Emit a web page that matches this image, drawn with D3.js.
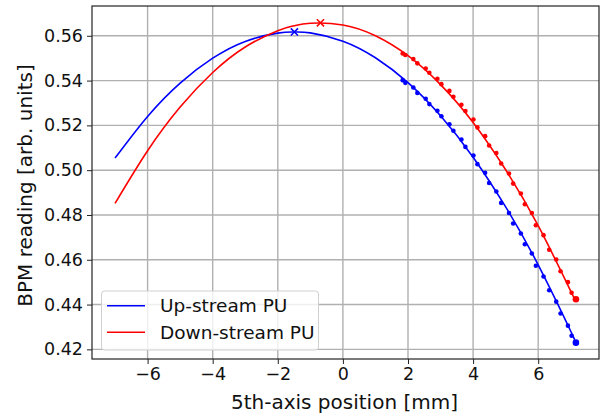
<!DOCTYPE html>
<html>
<head>
<meta charset="utf-8">
<script src="https://cdn.jsdelivr.net/npm/d3@7"></script>
<style>
  html, body { margin: 0; padding: 0; background: #fff; }
  svg { display: block; font-family: "DejaVu Sans", sans-serif; }
</style>
</head>
<body>
<svg id="chart" width="602" height="418"></svg>
<script>
// Fitted response curves, sampled along the 5th-axis position [mm]
const curveX    = [-7, -6, -5, -4, -3, -2, -1.5, -1, 0, 1, 2, 3, 4, 5, 6, 7, 7.03];
const upCurve   = [0.5054, 0.5240, 0.5389, 0.5500, 0.5575, 0.5612, 0.5617, 0.5613, 0.5576, 0.5502, 0.5391, 0.5243, 0.5058, 0.4836, 0.4577, 0.4281, 0.4270];
const downCurve = [0.4852, 0.5087, 0.5282, 0.5436, 0.5550, 0.5623, 0.5645, 0.5656, 0.5648, 0.5600, 0.5511, 0.5382, 0.5213, 0.5002, 0.4752, 0.4460, 0.4451];

// Measured BPM readings
const positions = [1.836, 1.918, 2.164, 2.287, 2.544, 2.656, 2.903, 3.026, 3.272, 3.395, 3.641, 3.764, 4.010, 4.133, 4.369, 4.492, 4.713, 4.862, 5.103, 5.231, 5.467, 5.590, 5.805, 5.928, 6.164, 6.338, 6.554, 6.687, 6.913, 7.026, 7.159];
const upReadings   = [0.5402, 0.5390, 0.5369, 0.5345, 0.5319, 0.5295, 0.5265, 0.5241, 0.5205, 0.5176, 0.5137, 0.5104, 0.5065, 0.5027, 0.4988, 0.4943, 0.4905, 0.4854, 0.4809, 0.4762, 0.4717, 0.4669, 0.4628, 0.4573, 0.4525, 0.4464, 0.4413, 0.4360, 0.4306, 0.4261, 0.4230];
const downReadings = [0.5521, 0.5514, 0.5496, 0.5477, 0.5454, 0.5435, 0.5408, 0.5384, 0.5354, 0.5328, 0.5292, 0.5264, 0.5226, 0.5191, 0.5152, 0.5110, 0.5077, 0.5030, 0.4985, 0.4940, 0.4896, 0.4848, 0.4809, 0.4754, 0.4710, 0.4645, 0.4601, 0.4549, 0.4500, 0.4453, 0.4424];

// Curve maxima
const peakX = [-1.49, -0.69];
const peakY = [0.5617, 0.5658];

const seriesNames  = ["Up-stream PU", "Down-stream PU"];
const seriesColors = ["#0000ff", "#ff0000"];

const xTicks = [-6, -4, -2, 0, 2, 4, 6];
const yTicks = [0.42, 0.44, 0.46, 0.48, 0.50, 0.52, 0.54, 0.56];

const xLabel = "5th-axis position [mm]";
const yLabel = "BPM reading [arb. units]";

// ---- layout ----
const plot = { left: 92, right: 599, top: 6, bottom: 359 };
const tickFont = 17.5, labelFont = 20, legendFont = 18.5;

const svg = d3.select("#chart");

const x = d3.scaleLinear().domain([-7.708, 7.868]).range([plot.left, plot.right]);
const y = d3.scaleLinear().domain([0.4157, 0.5733]).range([plot.bottom, plot.top]);

// grid
const grid = svg.append("g").attr("class", "grid");
grid.selectAll("line.vx").data(xTicks).join("line")
  .attr("x1", d => x(d)).attr("x2", d => x(d))
  .attr("y1", plot.top).attr("y2", plot.bottom)
  .attr("stroke", "#b0b0b0").attr("stroke-width", 1.4);
grid.selectAll("line.hy").data(yTicks).join("line")
  .attr("y1", d => y(d)).attr("y2", d => y(d))
  .attr("x1", plot.left).attr("x2", plot.right)
  .attr("stroke", "#b0b0b0").attr("stroke-width", 1.4);

// axes
const xAxis = d3.axisBottom(x).tickValues(xTicks).tickSize(5).tickPadding(4).tickFormat(d3.format("d"));
const yAxis = d3.axisLeft(y).tickValues(yTicks).tickSize(5).tickPadding(4).tickFormat(d3.format(".2f"));

const gx = svg.append("g").attr("transform", `translate(0,${plot.bottom})`).call(xAxis);
const gy = svg.append("g").attr("transform", `translate(${plot.left},0)`).call(yAxis);
[gx, gy].forEach(g => {
  g.select(".domain").remove();
  g.selectAll(".tick line").attr("stroke", "#222").attr("stroke-width", 1);
  g.selectAll(".tick text").attr("fill", "#111")
    .style("font-family", "DejaVu Sans").style("font-size", tickFont + "px");
});

// fitted curves
const line = d3.line().x(d => x(d[0])).y(d => y(d[1])).curve(d3.curveNatural);
[upCurve, downCurve].forEach((vals, i) => {
  svg.append("path")
    .datum(curveX.map((v, j) => [v, vals[j]]))
    .attr("d", line)
    .attr("fill", "none")
    .attr("stroke", seriesColors[i])
    .attr("stroke-width", 1.6);
});

// measured points (last reading drawn larger)
[upReadings, downReadings].forEach((vals, i) => {
  svg.append("g").selectAll("circle")
    .data(positions.map((p, j) => [p, vals[j], j === positions.length - 1]))
    .join("circle")
    .attr("cx", d => x(d[0])).attr("cy", d => y(d[1]))
    .attr("r", d => d[2] ? 3.3 : 2.3)
    .attr("fill", seriesColors[i]);
});

// peak markers
peakX.forEach((px, i) => {
  const cx = x(px), cy = y(peakY[i]), s = 3.6;
  svg.append("path")
    .attr("d", `M${cx - s},${cy - s}L${cx + s},${cy + s}M${cx - s},${cy + s}L${cx + s},${cy - s}`)
    .attr("stroke", seriesColors[i]).attr("stroke-width", 1.5).attr("fill", "none");
});

// frame
svg.append("rect")
  .attr("x", plot.left).attr("y", plot.top)
  .attr("width", plot.right - plot.left).attr("height", plot.bottom - plot.top)
  .attr("fill", "none").attr("stroke", "#222").attr("stroke-width", 1.2);

// axis labels
svg.append("text")
  .attr("x", (plot.left + plot.right) / 2 - 1).attr("y", 409)
  .attr("text-anchor", "middle").attr("fill", "#111")
  .style("font-size", labelFont + "px")
  .text(xLabel);
svg.append("text")
  .attr("transform", `translate(32,${(plot.top + plot.bottom) / 2 + 3}) rotate(-90)`)
  .attr("text-anchor", "middle").attr("fill", "#111")
  .style("font-size", labelFont + "px")
  .text(yLabel);

// legend
const legend = svg.append("g");
legend.append("rect")
  .attr("x", 101.5).attr("y", 291).attr("width", 217).attr("height", 59)
  .attr("rx", 3).attr("fill", "#fff").attr("fill-opacity", 0.8)
  .attr("stroke", "#d0d0d0").attr("stroke-width", 1);
seriesNames.forEach((name, i) => {
  const ly = 305.7 + i * 26.6;
  legend.append("line")
    .attr("x1", 107).attr("x2", 145).attr("y1", ly).attr("y2", ly)
    .attr("stroke", seriesColors[i]).attr("stroke-width", 1.6);
  legend.append("text")
    .attr("x", 160).attr("y", ly).attr("dy", "0.36em")
    .attr("fill", "#111").style("font-size", legendFont + "px")
    .text(name);
});
</script>
</body>
</html>
